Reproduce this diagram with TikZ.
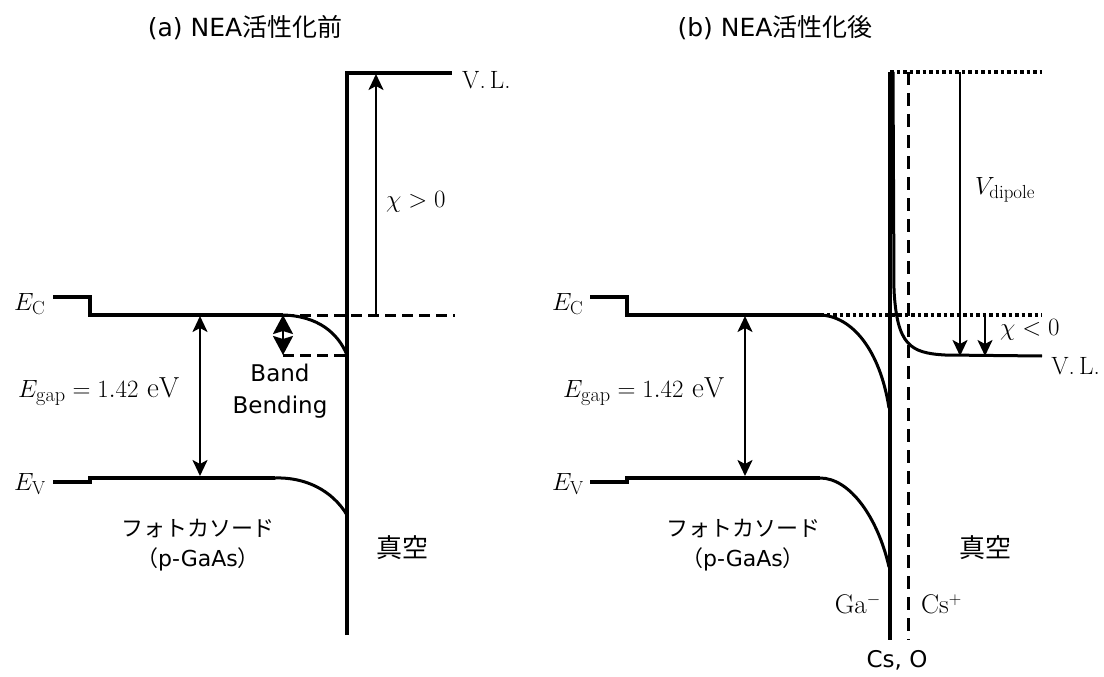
\documentclass[tikz,border=0pt]{standalone}
\usepackage{fontspec}
\newfontfamily\jp{Noto Sans CJK JP}
\newfontfamily\dv{DejaVu Sans}
\usetikzlibrary{arrows.meta}
\begin{document}
\begin{tikzpicture}[x=1pt,y=-1pt,
  band/.style={line width=3.4pt},
  curveline/.style={line width=3pt},
  dashline/.style={line width=3pt,dash pattern=on 11pt off 6pt},
  dotline/.style={line width=3.4pt,dash pattern=on 3.5pt off 3pt},
  arr/.style={line width=2.4pt,-{Stealth[length=16pt,width=15pt,inset=4pt]}},
  darr/.style={line width=2.4pt,{Stealth[length=16pt,width=15pt,inset=4pt]}-{Stealth[length=16pt,width=15pt,inset=4pt]}},
  bbarr/.style={line width=2.4pt,{Stealth[length=19pt,width=20pt,inset=3pt]}-{Stealth[length=19pt,width=20pt,inset=3pt]}},
  jlab/.style={font=\jp\fontsize{22}{30}\selectfont,inner sep=0pt},
  vlab/.style={font=\jp\fontsize{26}{30}\selectfont,inner sep=0pt},
  slab/.style={font=\dv\fontsize{23}{32}\selectfont,inner sep=0pt},
  tlab/.style={font=\fontsize{25}{30}\selectfont,inner sep=0pt},
  mlab/.style={font=\fontsize{27}{30}\selectfont,inner sep=0pt},
  glab/.style={font=\fontsize{29}{30}\selectfont,inner sep=0pt},
  vllab/.style={font=\fontsize{25}{30}\selectfont,inner sep=0pt},
]
\useasboundingbox (0,0) rectangle (1104,677);

% ---------- (a) ----------
\node[tlab] (ta) at (245,28) {{\dv (a) NEA}{\jp 活性化前}};
\coordinate (aC0) at (53,297);
\coordinate (aC1) at (90,297);
\coordinate (aC2) at (90,315);
\coordinate (aC3) at (283,315);
\coordinate (aCs) at (347,355);
\coordinate (aCd) at (283,355);
\coordinate (aCe) at (455,315);
\coordinate (aV0) at (53,482);
\coordinate (aV1) at (90,482);
\coordinate (aV2) at (90,478);
\coordinate (aV3) at (275,478);
\coordinate (aVs) at (347,515);
\coordinate (aT) at (347,73);
\coordinate (aB) at (347,635);
\coordinate (aVL) at (452,73);
\coordinate (aX0) at (376,315);
\coordinate (aX1) at (376,74);
\coordinate (aG0) at (200,316);
\coordinate (aG1) at (200,476);

\draw[band] (aC0) -- (aC1) -- (aC2) -- (aC3);
\draw[curveline] (aC3) .. controls (318,316) and (338,333) .. (aCs);
\draw[dashline] (aC3) -- (aCe);
\draw[dashline] (aCd) -- (aCs);
\draw[band] (aV0) -- (aV1) -- (aV2) -- (aV3);
\draw[curveline] (aV3) .. controls (305,477) and (332,490) .. (aVs);
\draw[band] (aB) -- (aT) -- (aVL);
\draw[arr] (aX0) -- (aX1);
\draw[darr] (aG0) -- (aG1);
\draw[bbarr] (aC3) -- (aCd);

\node[mlab,anchor=west] (aEC) at (14,304) {$E_{\mathrm{C}}$};
\node[mlab,anchor=west] (aEV) at (14,484) {$E_{\mathrm{V}}$};
\node[glab,anchor=west] (aEg) at (18,392) {$E_{\mathrm{gap}}=1.42\ \mathrm{eV}$};
\node[vllab,anchor=west] (aVLt) at (462,80) {V.\,L.};
\node[mlab,anchor=west] (aXt) at (386,202) {$\chi>0$};
\node[slab,align=center] (aBB) at (280,391) {Band\\Bending};
\node[jlab,align=center] (aPC) at (198,545) {フォトカソード\\（{\dv p-GaAs}）};
\node[vlab] (aVac) at (402,548) {真空};

% ---------- (b) ----------
\node[tlab] (tb) at (775,28) {{\dv (b) NEA}{\jp 活性化後}};
\coordinate (bC0) at (590,297);
\coordinate (bC1) at (627,297);
\coordinate (bC2) at (627,315);
\coordinate (bC3) at (820,315);
\coordinate (bCs) at (889,408);
\coordinate (bCe) at (1042,315);
\coordinate (bV0) at (590,482);
\coordinate (bV1) at (627,482);
\coordinate (bV2) at (627,478);
\coordinate (bV3) at (820,478);
\coordinate (bVs) at (889,567);
\coordinate (bT) at (890,72);
\coordinate (bB) at (890,640);
\coordinate (bDT) at (908,72);
\coordinate (bDB) at (908,640);
\coordinate (bTe) at (1042,72);
\coordinate (bL0) at (893,72);
\coordinate (bL1) at (894,290);
\coordinate (bL2) at (945,355);
\coordinate (bL3) at (1042,356);
\coordinate (bD0) at (960,72);
\coordinate (bD1) at (960,356);
\coordinate (bX0) at (985,316);
\coordinate (bX1) at (985,356);
\coordinate (bG0) at (745,316);
\coordinate (bG1) at (745,476);

\draw[band] (bC0) -- (bC1) -- (bC2) -- (bC3);
\draw[curveline] (bC3) .. controls (852,316) and (880,350) .. (bCs);
\draw[dotline] (bC3) -- (bCe);
\draw[band] (bV0) -- (bV1) -- (bV2) -- (bV3);
\draw[curveline] (bV3) .. controls (850,478) and (878,518) .. (bVs);
\draw[band] (bT) -- (bB);
\draw[line width=3pt,dash pattern=on 13pt off 8pt] (bDT) -- (bDB);
\draw[dotline] (bT) -- (bTe);
\draw[curveline] (bL0) -- (bL1) .. controls (897,345) and (910,353) .. (bL2) -- (bL3);
\draw[arr] (bD0) -- (bD1);
\draw[arr] (bX0) -- (bX1);
\draw[darr] (bG0) -- (bG1);

\node[mlab,anchor=west] (bEC) at (552,304) {$E_{\mathrm{C}}$};
\node[mlab,anchor=west] (bEV) at (552,484) {$E_{\mathrm{V}}$};
\node[glab,anchor=west] (bEg) at (563,392) {$E_{\mathrm{gap}}=1.42\ \mathrm{eV}$};
\node[vllab,anchor=east] (bVLt) at (1100,366) {V.\,L.};
\node[mlab,anchor=west] (bXt) at (1000,330) {$\chi<0$};
\node[mlab,anchor=west] (bVd) at (975,190) {$V_{\mathrm{dipole}}$};
\node[jlab,align=center] (bPC) at (743,545) {フォトカソード\\（{\dv p-GaAs}）};
\node[vlab] (bVac) at (985,548) {真空};
\node[mlab,anchor=east] (bGa) at (881,604) {Ga$^{-}$};
\node[mlab,anchor=west] (bCs) at (921,604) {Cs$^{+}$};
\node[slab] (bCsO) at (897,660) {Cs, O};
\end{tikzpicture}
\end{document}
